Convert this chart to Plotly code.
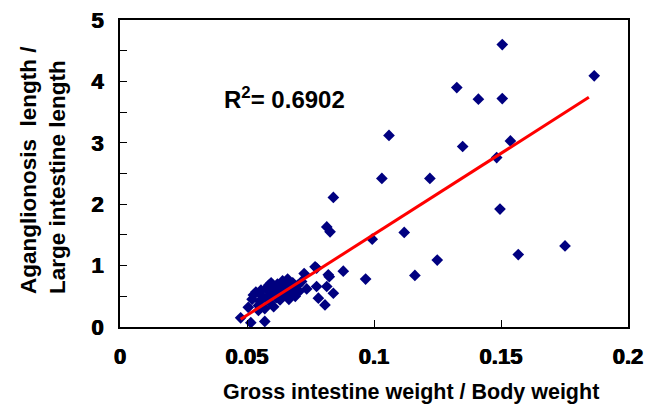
import plotly.graph_objects as go

# outlying points
x_out = [0.1505, 0.1867, 0.1326, 0.1411, 0.1505, 0.1059, 0.1349, 0.1537, 0.1483,
         0.1031, 0.1220, 0.0840, 0.1496, 0.0814, 0.0827, 0.1119, 0.0993, 0.1752,
         0.1568, 0.1249, 0.0879, 0.1161, 0.0967, 0.0824]
y_out = [4.60, 4.09, 3.90, 3.71, 3.72, 3.12, 2.94, 3.03, 2.76,
         2.42, 2.42, 2.11, 1.92, 1.63, 1.55, 1.54, 1.43, 1.32,
         1.18, 1.09, 0.91, 0.84, 0.78, 0.82]

# dense cluster near the origin
x_clu = [0.0475, 0.0515, 0.0570, 0.0505, 0.0520, 0.0535, 0.0525, 0.0550, 0.0545,
         0.0560, 0.0575, 0.0585, 0.0580, 0.0590, 0.0600, 0.0605, 0.0610, 0.0615,
         0.0620, 0.0625, 0.0630, 0.0635, 0.0640, 0.0645, 0.0650, 0.0655, 0.0660,
         0.0665, 0.0670, 0.0675, 0.0680, 0.0685, 0.0690, 0.0700, 0.0705, 0.0715,
         0.0725, 0.0735, 0.0768, 0.0774, 0.0781, 0.0807, 0.0814, 0.0820, 0.0840,
         0.0545, 0.0570, 0.0595, 0.0555, 0.0774]
y_clu = [0.15, 0.07, 0.09, 0.32, 0.45, 0.57, 0.52, 0.42, 0.35,
         0.50, 0.62, 0.68, 0.47, 0.40, 0.55, 0.33, 0.62, 0.48,
         0.70, 0.58, 0.44, 0.66, 0.75, 0.52, 0.60, 0.70, 0.78,
         0.45, 0.64, 0.55, 0.72, 0.62, 0.50, 0.68, 0.58, 0.74,
         0.87, 0.62, 0.98, 0.66, 0.47, 0.36, 0.66, 0.85, 0.55,
         0.27, 0.30, 0.72, 0.60, 0.96]

# fitted trend line end points
trend_x = [0.0475, 0.1846]
trend_y = [0.125, 3.74]

x_ticks = [0, 0.05, 0.1, 0.15, 0.2]
x_tick_labels = ["0", "0.05", "0.1", "0.15", "0.2"]
y_ticks = [0, 1, 2, 3, 4, 5]
y_tick_labels = ["0", "1", "2", "3", "4", "5"]

font_family = "Liberation Sans, Arial, sans-serif"

fig = go.Figure()
fig.add_trace(go.Scatter(
    x=x_clu + x_out, y=y_clu + y_out, mode="markers",
    marker=dict(symbol="diamond", size=9, color="#000080"),
))
fig.add_trace(go.Scatter(
    x=trend_x, y=trend_y, mode="lines",
    line=dict(color="#ff0000", width=3),
))

# tick labels look heavy in the original, thicken them a bit
tick_font = dict(family=font_family, size=22, color="black", weight="bold",
                 shadow="0.5px 0px 0px black, -0.5px 0px 0px black")

axis_common = dict(
    showline=True, linecolor="black", linewidth=1.5, mirror=True,
    ticks="inside", ticklen=7, tickcolor="black", showgrid=False, zeroline=False,
    tickfont=tick_font, automargin=False, ticklabeloverflow="allow",
)

fig.update_xaxes(range=[0, 0.2], tickvals=x_ticks, ticktext=x_tick_labels,
                 ticklabelstandoff=9, **axis_common)
fig.update_yaxes(range=[0, 5], tickvals=y_ticks, ticktext=y_tick_labels,
                 ticklabelstandoff=10,
                 minor=dict(dtick=0.5, ticks="inside", ticklen=7, tickcolor="black"),
                 **axis_common)

# plot area: x 120..628, y 20..327 in the reference
fig.add_annotation(
    text="R<sup>2</sup>= 0.6902", xref="paper", yref="paper",
    x=(222 - 120) / 508, y=(327 - 98) / 307, xanchor="left", yanchor="middle",
    showarrow=False, font=dict(family=font_family, size=24, color="black", weight="bold"),
)
fig.add_annotation(
    text="Aganglionosis  length /<br>Large intestine length", textangle=-90,
    xref="paper", yref="paper", x=(43 - 120) / 508, y=(327 - 170) / 307,
    xanchor="center", yanchor="middle", align="left", showarrow=False,
    font=dict(family=font_family, size=22.5, color="black", weight="bold"),
)
fig.add_annotation(
    text="Gross intestine weight / Body weight",
    xref="paper", yref="paper", x=(411 - 120) / 508, y=(327 - 392) / 307,
    xanchor="center", yanchor="middle", showarrow=False,
    font=dict(family=font_family, size=21.5, color="black", weight="bold"),
)

fig.update_layout(
    width=658, height=415, showlegend=False,
    margin=dict(l=112, r=38, t=12, b=96, autoexpand=False),
    paper_bgcolor="white", plot_bgcolor="white",
)

fig.write_html("out.html")
